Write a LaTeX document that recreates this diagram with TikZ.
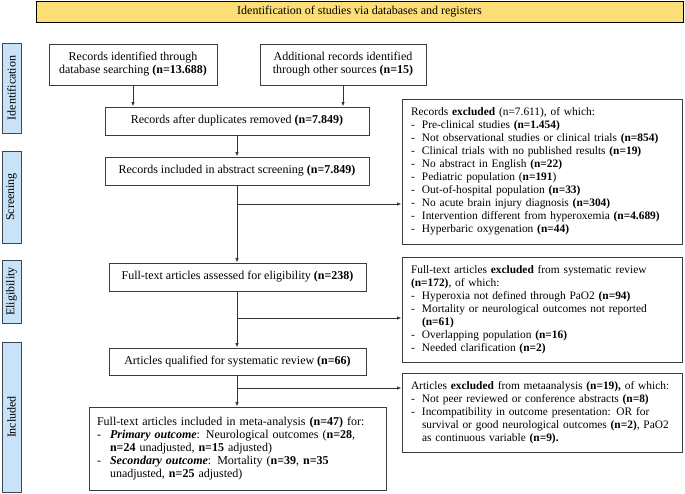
\documentclass[tikz,border=0pt]{standalone}
\usepackage{fontspec}
\setmainfont{Liberation Serif}
\usetikzlibrary{arrows.meta}
\definecolor{headfill}{RGB}{252,222,118}
\definecolor{sidefill}{RGB}{200,226,247}
\definecolor{sidedraw}{RGB}{60,70,85}
\definecolor{boxc}{RGB}{60,60,60}
\definecolor{arrc}{RGB}{50,50,50}
\newcommand{\dl}[2][11pt]{\mbox{\makebox[#1][l]{-}#2}}
\newcommand{\cl}[2][11pt]{\mbox{\hspace*{#1}#2}}
\begin{document}
\begin{tikzpicture}[x=1pt,y=-1pt,
  every node/.style={font=\fontsize{12pt}{13pt}\selectfont},
  hbox/.style={draw=black, line width=0.9pt, fill=headfill, inner sep=0pt, align=center},
  sidebox/.style={draw=sidedraw, fill=sidefill, line width=0.9pt, rotate=90, inner sep=0pt, minimum height=19pt},
  mbox/.style={draw=boxc, line width=1pt, fill=white, inner sep=0pt, align=center},
  exbox/.style={draw=boxc, line width=1pt, fill=white, inner xsep=9pt, inner ysep=0pt, align=left, text width=262pt, font=\fontsize{11.4pt}{13pt}\selectfont},
  arr/.style={draw=arrc, line width=0.9pt, -{Latex[length=4.5pt,width=3.5pt]}}
]
\useasboundingbox (0,0) rectangle (685,493);

% header
\node[hbox, minimum width=647pt, minimum height=21pt] (head) at (359.5,11.5) {Identification of studies via databases and registers};

% side labels
\node[sidebox, minimum width=90pt] (sI) at (11.5,88) {Identification};
\node[sidebox, minimum width=92pt] (sS) at (11.5,197) {Screening};
\node[sidebox, minimum width=63pt] (sE) at (11.5,291.5) {Eligibility};
\node[sidebox, minimum width=150pt] (sN) at (11.5,417) {Included};

% main column
\node[mbox, minimum width=168pt, minimum height=41pt] (b1) at (133,64.5) {Records identified through\\database searching \textbf{(n=13.688)}};
\node[mbox, minimum width=166pt, minimum height=41pt] (b2) at (343,64.5) {Additional records identified\\through other sources \textbf{(n=15)}};
\node[mbox, minimum width=264pt, minimum height=28pt] (b3) at (237,121) {Records after duplicates removed \textbf{(n=7.849)}};
\node[mbox, minimum width=264pt, minimum height=28pt] (b4) at (237,171) {Records included in abstract screening \textbf{(n=7.849)}};
\node[mbox, minimum width=257pt, minimum height=28pt] (b5) at (237.5,277) {Full-text articles assessed for eligibility \textbf{(n=238)}};
\node[mbox, minimum width=257pt, minimum height=27pt] (b6) at (237.5,361.5) {Articles qualified for systematic review \textbf{(n=66)}};
\node[draw=boxc, line width=1pt, fill=white, inner xsep=8pt, inner ysep=0pt, align=left, text width=281pt, minimum height=83pt] (b7) at (237.5,448.5) {\mbox{Full-text articles included in meta-analysis \textbf{(n=47)} for:}\\
\dl[13pt]{\textbf{\textit{Primary outcome}}: Neurological outcomes (\textbf{n=28},}\\
\cl[13pt]{\textbf{n=24} unadjusted, \textbf{n=15} adjusted)}\\
\dl[13pt]{\textbf{\textit{Secondary outcome}}: Mortality (\textbf{n=39}, \textbf{n=35}}\\
\cl[13pt]{unadjusted, \textbf{n=25} adjusted)}};

% excluded boxes
\node[exbox, minimum height=145pt] (e1) at (542,171.5) {\mbox{Records \textbf{excluded} (n=7.611), of which:}\\
\dl{Pre-clinical studies \textbf{(n=1.454)}}\\
\dl{Not observational studies or clinical trials \textbf{(n=854)}}\\
\dl{Clinical trials with no published results \textbf{(n=19)}}\\
\dl{No abstract in English \textbf{(n=22)}}\\
\dl{Pediatric population (\textbf{n=191})}\\
\dl{Out-of-hospital population \textbf{(n=33)}}\\
\dl{No acute brain injury diagnosis \textbf{(n=304)}}\\
\dl{Intervention different from hyperoxemia \textbf{(n=4.689)}}\\
\dl{Hyperbaric oxygenation \textbf{(n=44)}}};
\node[exbox, minimum height=105pt] (e2) at (542,309.5) {\mbox{Full-text articles \textbf{excluded} from systematic review}\\
\mbox{\textbf{(n=172)}, of which:}\\
\dl{Hyperoxia not defined through PaO2 \textbf{(n=94)}}\\
\dl{Mortality or neurological outcomes not reported}\\
\cl{\textbf{(n=61)}}\\
\dl{Overlapping population \textbf{(n=16)}}\\
\dl{Needed clarification \textbf{(n=2)}}};
\node[exbox, minimum height=79pt] (e3) at (542,412.5) {\mbox{Articles \textbf{excluded} from metaanalysis \textbf{(n=19),} of which:}\\
\dl{Not peer reviewed or conference abstracts \textbf{(n=8)}}\\
\dl{Incompatibility in outcome presentation: OR for}\\
\cl{survival or good neurological outcomes \textbf{(n=2)}, PaO2}\\
\cl{as continuous variable \textbf{(n=9).}}};

% connectors
\draw[arr] (b1.south) -- (b1.south |- b3.north);
\draw[arr] (b2.south) -- (b2.south |- b3.north);
\draw[arr] (b3.south) -- (b4.north);
\draw[arr] (b4.south) -- (b4.south |- b5.north);
\draw[arr] (b4.south |- b5.south) -- (b4.south |- b6.north);
\draw[arr] (b4.south |- b6.south) -- (b4.south |- b7.north);

\coordinate (br1) at (237,204);
\coordinate (br2) at (237,318);
\coordinate (br3) at (237,388);
\draw[arr] (br1) -- (br1 -| e1.west);
\draw[arr] (br2) -- (br2 -| e2.west);
\draw[arr] (br3) -- (br3 -| e3.west);
\end{tikzpicture}
\end{document}
